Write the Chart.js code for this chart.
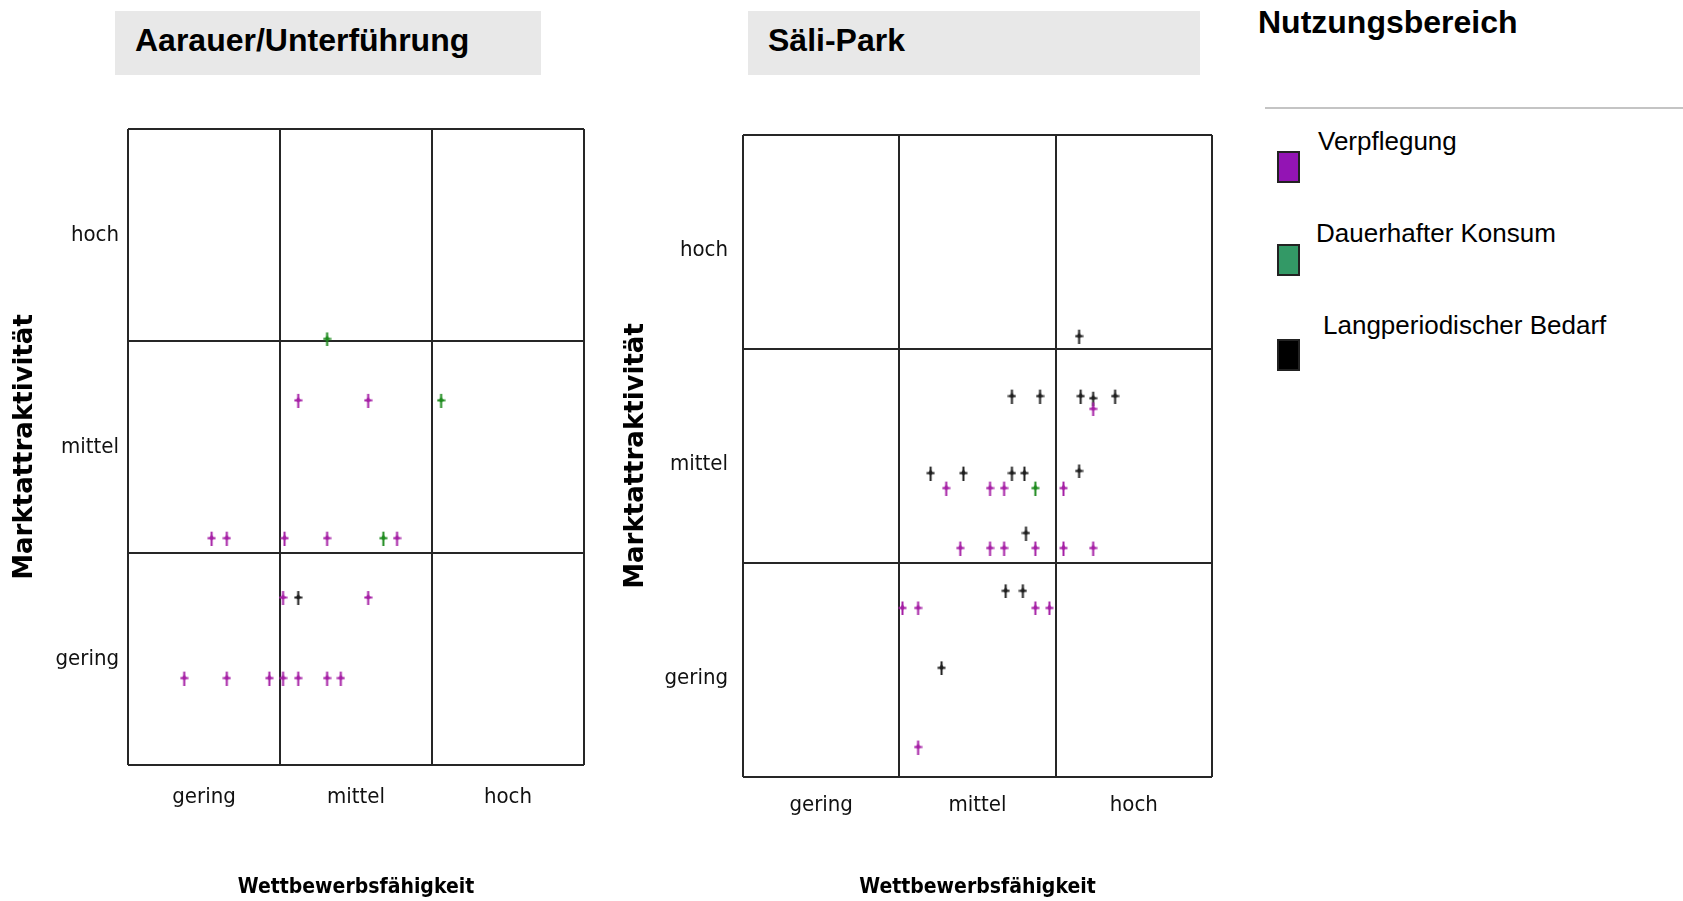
<!DOCTYPE html>
<html lang="de">
<head>
<meta charset="utf-8">
<title>Marktattraktivität und Wettbewerbsfähigkeit</title>
<script src="https://cdn.jsdelivr.net/npm/chart.js@4.4.1/dist/chart.umd.min.js"></script>
<style>
  body { margin: 0; width: 1683px; height: 901px; position: relative; overflow: hidden; background: #fff;
         font-family: 'Liberation Sans', Arial, sans-serif; color: #000; }
  canvas { position: absolute; top: 0; }
  .titel { position: absolute; top: 11px; height: 64px; box-sizing: border-box; padding: 13px 0 0 20px;
           background: #e8e8e8; font-weight: bold; font-size: 32px; line-height: 32px; white-space: nowrap; }
  .legende-titel { position: absolute; left: 1258px; top: 6px; font-weight: bold; font-size: 32px; line-height: 32px; }
  .linie { position: absolute; left: 1265px; top: 107px; width: 418px; height: 2px; background: #c4c4c4; }
  .eintrag { position: absolute; font-size: 26px; line-height: 26px; white-space: nowrap; }
  .feld { position: absolute; left: 1277px; width: 23px; height: 32px; box-sizing: border-box; border: 2px solid #222; }
</style>
</head>
<body>

<div class="titel" style="left:115px; width:426px;">Aarauer/Unterführung</div>
<div class="titel" style="left:748px; width:452px;">Säli-Park</div>

<div class="legende-titel">Nutzungsbereich</div>
<div class="linie"></div>
<div class="feld" style="top:151px; background:#9314b4;"></div>
<div class="eintrag" style="left:1318px; top:128px;">Verpflegung</div>
<div class="feld" style="top:244px; background:#339966;"></div>
<div class="eintrag" style="left:1316px; top:220px;">Dauerhafter Konsum</div>
<div class="feld" style="top:339px; background:#000;"></div>
<div class="eintrag" style="left:1323px; top:312px;">Langperiodischer Bedarf</div>

<canvas id="aarauer" width="620" height="901" style="left:0px;"></canvas>
<canvas id="saeli" width="640" height="901" style="left:600px;"></canvas>

<script>
const stufen = ['gering', 'mittel', 'hoch'];
const achseX = 'Wettbewerbsfähigkeit';
const achseY = 'Marktattraktivität';
const kategorien = ['Verpflegung', 'Dauerhafter Konsum', 'Langperiodischer Bedarf'];
const markerFarben = ['#a51fa5', '#1d8a1d', '#1e1e1e'];

// Aarauer/Unterführung  [Wettbewerbsfähigkeit, Marktattraktivität], 0..3
const aarauerVerpflegung = [
  [1.12, 1.72], [1.58, 1.72],
  [0.55, 1.07], [0.65, 1.07], [1.03, 1.07], [1.31, 1.07], [1.77, 1.07],
  [1.02, 0.79], [1.58, 0.79],
  [0.37, 0.41], [0.65, 0.41], [0.93, 0.41], [1.02, 0.41], [1.12, 0.41], [1.31, 0.41], [1.40, 0.41]
];
const aarauerKonsum = [[1.31, 2.01], [2.06, 1.72], [1.68, 1.07]];
const aarauerBedarf = [[1.12, 0.79]];

// Säli-Park
const saeliVerpflegung = [
  [2.24, 1.72],
  [1.30, 1.35], [1.58, 1.35], [1.67, 1.35], [2.05, 1.35],
  [1.39, 1.07], [1.58, 1.07], [1.67, 1.07], [1.87, 1.07], [2.05, 1.07], [2.24, 1.07],
  [1.02, 0.79], [1.12, 0.79], [1.87, 0.79], [1.96, 0.79],
  [1.12, 0.14]
];
const saeliKonsum = [[1.87, 1.35]];
const saeliBedarf = [
  [2.15, 2.06],
  [1.72, 1.78], [1.90, 1.78], [2.16, 1.78], [2.24, 1.77], [2.38, 1.78],
  [1.20, 1.42], [1.41, 1.42], [1.72, 1.42], [1.80, 1.42], [2.15, 1.43],
  [1.81, 1.14],
  [1.68, 0.87], [1.79, 0.87],
  [1.27, 0.51]
];

const tickSchrift = { family: "'Liberation Sans Narrow', 'DejaVu Sans Condensed', sans-serif", size: 22 };
const titelSchrift = { family: "'DejaVu Sans', sans-serif", size: 26, weight: 'bold' };
const titelSchriftX = { family: "'DejaVu Sans Condensed', 'DejaVu Sans', sans-serif", size: 21, weight: 'bold' };

// kleines Kreuz-Symbol wie im Original
function marker(farbe) {
  const c = document.createElement('canvas');
  c.width = 9;
  c.height = 15;
  const g = c.getContext('2d');
  g.fillStyle = farbe;
  g.fillRect(3.5, 1, 2, 14);
  g.fillRect(0.5, 6.5, 8, 2);
  g.beginPath();
  g.moveTo(4.5, 3.5);
  g.lineTo(7, 7.5);
  g.lineTo(4.5, 10);
  g.lineTo(2, 7.5);
  g.closePath();
  g.fill();
  return c;
}

function achse(titel, horizontal, groesse, tickPad, labelOffset, titelPad, schrift) {
  return {
    type: 'linear',
    min: 0,
    max: 3,
    afterBuildTicks: s => { s.ticks = [0, 0.5, 1, 1.5, 2, 2.5, 3].map(v => ({ value: v })); },
    afterFit: s => { if (horizontal) s.height = groesse; else s.width = groesse; },
    grid: {
      color: ctx => (ctx.tick && ctx.tick.value % 1 === 0) ? '#262626' : 'rgba(0,0,0,0)',
      lineWidth: 2,
      drawTicks: false
    },
    border: { display: false },
    ticks: {
      autoSkip: false,
      maxRotation: 0,
      padding: tickPad,
      labelOffset: labelOffset,
      color: '#111',
      font: tickSchrift,
      callback: v => (v % 1) ? stufen[Math.floor(v)] : ''
    },
    title: { display: true, text: titel, color: '#000', font: schrift, padding: titelPad }
  };
}

function matrix(id, reihen, lay) {
  new Chart(document.getElementById(id), {
    type: 'scatter',
    data: {
      datasets: kategorien.map((k, i) => ({
        label: k,
        data: reihen[i].map(p => ({ x: p[0], y: p[1] })),
        pointStyle: marker(markerFarben[i]),
        pointRadius: 5,
        pointHoverRadius: 5
      }))
    },
    options: {
      responsive: false,
      animation: false,
      events: [],
      layout: { padding: { top: lay.oben, right: lay.rechts, left: 0, bottom: 0 } },
      plugins: { legend: { display: false }, tooltip: { enabled: false } },
      scales: {
        x: achse(achseX, true, lay.xHoehe, lay.xTickPad, 0, { top: 0, bottom: 1 }, titelSchriftX),
        y: achse(achseY, false, lay.yBreite, lay.yTickPad, lay.yLabelOffset, { top: lay.yTitelPad, bottom: 0 }, titelSchrift)
      }
    }
  });
}

matrix('aarauer', [aarauerVerpflegung, aarauerKonsum, aarauerBedarf],
  { oben: 129, rechts: 36, xHoehe: 136, yBreite: 128, xTickPad: 19, yTickPad: 9, yLabelOffset: 0, yTitelPad: 10 });

matrix('saeli', [saeliVerpflegung, saeliKonsum, saeliBedarf],
  { oben: 135, rechts: 28, xHoehe: 124, yBreite: 143, xTickPad: 15, yTickPad: 15, yLabelOffset: 8, yTitelPad: 21 });
</script>
</body>
</html>
